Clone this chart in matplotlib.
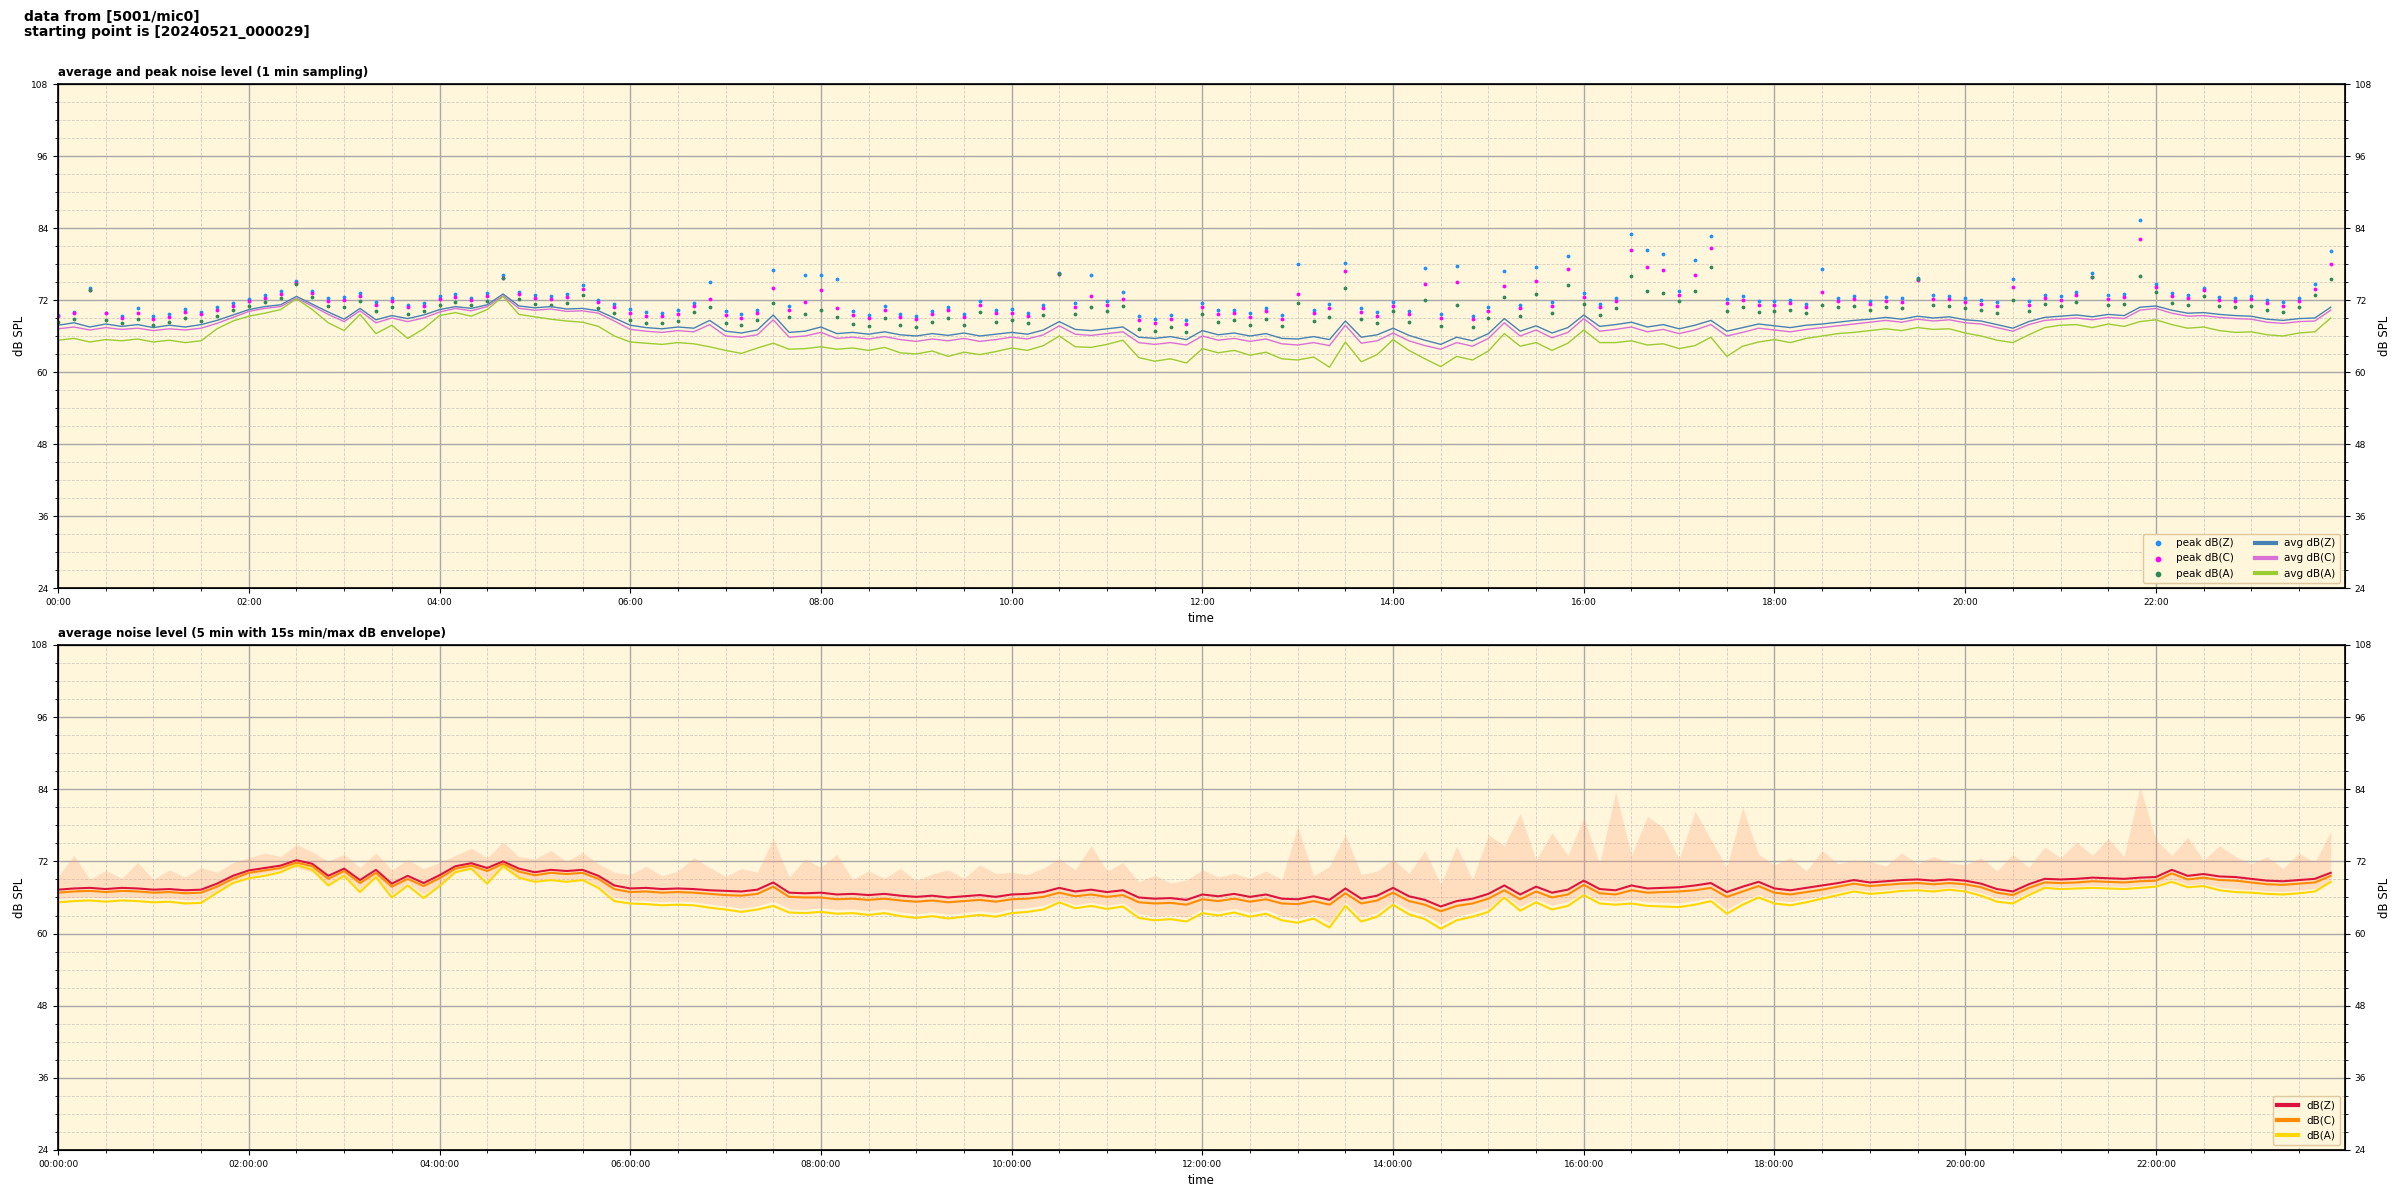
import numpy as np
import pandas as pd
import matplotlib
matplotlib.use("Agg")
import matplotlib.pyplot as plt
import matplotlib.dates as mdates

# ---- data (10 min steps) ----
minutes = np.arange(0, 1440, 10)

avg_z = [67.8, 68.2, 67.5, 68.0, 67.6, 67.9, 67.4, 67.8, 67.5, 67.9, 68.6, 69.5,
         70.4, 70.9, 71.2, 72.6, 71.3, 70.0, 68.8, 70.6, 68.7, 69.4, 68.9, 69.5,
         70.4, 70.9, 70.6, 71.2, 73.0, 71.0, 70.7, 70.9, 70.5, 70.6, 70.2, 69.0,
         67.8, 67.4, 67.2, 67.5, 67.3, 68.6, 66.8, 66.5, 67.0, 69.5, 66.6, 66.8,
         67.5, 66.4, 66.6, 66.3, 66.7, 66.2, 66.0, 66.4, 66.1, 66.5, 66.0, 66.3,
         66.6, 66.3, 67.0, 68.4, 67.1, 66.9, 67.2, 67.5, 65.8, 65.6, 65.9, 65.4,
         66.9, 66.2, 66.5, 66.0, 66.4, 65.6, 65.5, 65.9, 65.4, 68.5, 65.8, 66.2,
         67.3, 66.1, 65.3, 64.6, 65.8, 65.2, 66.4, 68.9, 66.8, 67.7, 66.5, 67.4,
         69.5, 67.6, 67.9, 68.3, 67.5, 67.9, 67.2, 67.8, 68.6, 66.8, 67.4, 68.0,
         67.7, 67.4, 67.8, 68.0, 68.3, 68.6, 68.8, 69.1, 68.8, 69.3, 69.0, 69.2,
         68.7, 68.5, 67.9, 67.3, 68.4, 69.1, 69.3, 69.5, 69.2, 69.6, 69.4, 70.8,
         71.0, 70.3, 69.8, 69.9, 69.6, 69.4, 69.3, 68.8, 68.6, 68.9, 69.0, 70.8]
avg_c = [67.2, 67.5, 67.0, 67.4, 67.1, 67.3, 66.9, 67.2, 67.0, 67.3, 68.1, 69.1,
         70.1, 70.6, 70.9, 72.3, 71.0, 69.6, 68.4, 70.2, 68.2, 69.0, 68.4, 69.0,
         70.0, 70.6, 70.2, 70.9, 72.7, 70.6, 70.3, 70.5, 70.1, 70.2, 69.8, 68.5,
         67.1, 66.8, 66.6, 66.9, 66.7, 67.9, 66.0, 65.8, 66.2, 68.7, 65.8, 66.0,
         66.6, 65.6, 65.8, 65.5, 65.9, 65.4, 65.1, 65.5, 65.2, 65.6, 65.1, 65.4,
         65.8, 65.5, 66.2, 67.7, 66.3, 66.1, 66.4, 66.7, 64.9, 64.6, 64.9, 64.5,
         66.0, 65.3, 65.6, 65.1, 65.5, 64.7, 64.5, 64.9, 64.4, 67.8, 64.8, 65.2,
         66.5, 65.2, 64.4, 63.8, 64.9, 64.3, 65.6, 68.2, 66.0, 67.0, 65.7, 66.6,
         68.9, 66.8, 67.1, 67.5, 66.7, 67.1, 66.4, 67.0, 67.9, 66.0, 66.6, 67.3,
         67.0, 66.7, 67.1, 67.4, 67.7, 68.0, 68.3, 68.6, 68.3, 68.8, 68.5, 68.7,
         68.2, 68.0, 67.4, 66.8, 67.9, 68.6, 68.8, 69.0, 68.7, 69.1, 68.9, 70.3,
         70.6, 69.8, 69.3, 69.4, 69.1, 68.9, 68.8, 68.3, 68.1, 68.4, 68.5, 70.3]
avg_a = [65.3, 65.6, 65.0, 65.4, 65.2, 65.5, 65.0, 65.3, 64.9, 65.2, 67.2, 68.5,
         69.3, 69.8, 70.4, 72.2, 70.4, 68.2, 66.9, 69.6, 66.4, 67.8, 65.6, 67.2,
         69.4, 69.9, 69.3, 70.4, 72.6, 69.6, 69.2, 68.8, 68.5, 68.3, 67.6, 66.0,
         65.0, 64.8, 64.6, 64.9, 64.7, 64.2, 63.6, 63.1, 64.0, 64.8, 63.8, 63.9,
         64.2, 63.8, 64.0, 63.6, 64.1, 63.2, 63.0, 63.5, 62.6, 63.3, 62.9, 63.4,
         64.0, 63.6, 64.4, 66.0, 64.2, 64.1, 64.6, 65.3, 62.4, 61.8, 62.2, 61.5,
         63.9, 63.2, 63.6, 62.8, 63.3, 62.2, 62.0, 62.5, 60.8, 65.0, 61.7, 62.9,
         65.4, 63.6, 62.2, 60.9, 62.6, 62.0, 63.5, 66.4, 64.3, 64.9, 63.6, 64.8,
         67.0, 64.9, 64.9, 65.2, 64.5, 64.7, 63.9, 64.4, 65.8, 62.6, 64.3, 65.0,
         65.4, 64.9, 65.6, 66.0, 66.4, 66.6, 66.9, 67.2, 66.9, 67.4, 67.1, 67.2,
         66.5, 66.0, 65.3, 64.9, 66.2, 67.4, 67.8, 67.9, 67.4, 68.0, 67.6, 68.4,
         68.7, 67.9, 67.3, 67.5, 66.9, 66.6, 66.7, 66.2, 66.0, 66.5, 66.7, 69.0]

peak_z = [69.5, 70.0, 74.0, 69.8, 69.4, 70.6, 69.3, 69.6, 70.5, 70.0, 70.8, 71.5,
          72.1, 72.8, 73.5, 75.2, 73.5, 72.3, 72.5, 73.2, 71.6, 72.4, 71.2, 71.5,
          72.6, 73.0, 72.4, 73.1, 76.1, 73.4, 72.8, 72.6, 73.0, 74.5, 72.0, 71.4,
          70.5, 70.0, 69.8, 70.3, 71.5, 75.0, 70.2, 69.6, 70.4, 77.0, 71.0, 76.2,
          76.2, 75.5, 70.1, 69.5, 71.0, 69.6, 69.4, 70.2, 70.8, 69.6, 71.8, 70.4,
          70.5, 69.9, 71.2, 76.5, 71.5, 76.2, 71.8, 73.4, 69.3, 68.8, 69.5, 68.6,
          71.5, 70.3, 70.4, 69.8, 70.6, 69.5, 78.0, 70.4, 71.3, 78.2, 70.6, 70.0,
          71.6, 70.2, 77.3, 69.6, 77.6, 69.3, 70.8, 76.9, 71.2, 77.5, 71.6, 79.3,
          73.2, 71.3, 72.4, 83.0, 80.4, 79.7, 73.5, 78.6, 82.6, 72.1, 72.6, 71.8,
          71.8, 72.0, 71.3, 77.2, 72.4, 72.6, 71.9, 72.5, 72.3, 75.7, 72.8, 72.6,
          72.3, 72.0, 71.6, 75.5, 71.8, 72.9, 72.6, 73.4, 76.5, 72.8, 73.0, 85.3,
          74.6, 73.2, 72.8, 74.0, 72.5, 72.4, 72.6, 72.0, 71.6, 72.4, 74.6, 80.2]
peak_c = [69.4, 69.9, 73.6, 69.9, 69.0, 69.8, 68.9, 69.2, 70.0, 69.6, 70.3, 71.0,
          71.8, 72.3, 73.0, 74.8, 73.1, 71.9, 72.0, 72.7, 71.1, 71.9, 70.8, 71.0,
          72.1, 72.5, 72.0, 72.6, 75.6, 73.0, 72.3, 72.2, 72.5, 73.9, 71.6, 70.8,
          69.8, 69.4, 69.3, 69.6, 71.0, 72.2, 69.5, 69.0, 69.9, 74.0, 70.4, 71.7,
          73.6, 70.7, 69.5, 69.0, 70.4, 69.1, 68.8, 69.6, 70.3, 69.1, 71.2, 69.8,
          69.8, 69.4, 70.6, 76.3, 70.9, 72.6, 71.2, 72.2, 68.6, 68.2, 68.8, 68.0,
          70.8, 69.7, 69.8, 69.2, 70.1, 68.9, 73.0, 69.8, 70.6, 76.8, 70.0, 69.4,
          71.0, 69.6, 74.6, 69.0, 75.0, 68.8, 70.2, 74.4, 70.6, 75.2, 71.0, 77.1,
          72.5, 70.8, 71.8, 80.3, 77.5, 77.0, 72.8, 76.1, 80.6, 71.5, 72.0, 71.2,
          71.2, 71.5, 70.8, 73.3, 71.9, 72.1, 71.3, 71.9, 71.7, 75.4, 72.2, 72.1,
          71.7, 71.4, 71.0, 74.2, 71.2, 72.4, 72.0, 72.8, 75.8, 72.2, 72.5, 82.2,
          74.2, 72.6, 72.3, 73.6, 72.0, 71.9, 72.1, 71.5, 71.0, 71.9, 73.9, 78.0]
peak_a = [68.4, 68.9, 73.7, 68.6, 68.2, 68.8, 67.8, 68.3, 69.0, 68.5, 69.4, 70.3,
          71.0, 71.6, 72.4, 74.6, 72.5, 71.0, 70.9, 71.8, 70.1, 70.8, 69.6, 70.2,
          71.2, 71.6, 71.1, 71.9, 75.7, 72.1, 71.4, 71.2, 71.5, 72.8, 70.7, 69.8,
          68.6, 68.2, 68.1, 68.5, 70.0, 70.8, 68.2, 67.8, 68.6, 71.5, 69.2, 69.6,
          70.4, 69.2, 68.0, 67.6, 69.0, 67.8, 67.5, 68.3, 69.0, 67.8, 70.0, 68.4,
          68.6, 68.1, 69.5, 76.4, 69.6, 70.8, 70.1, 71.0, 67.2, 66.8, 67.5, 66.7,
          69.6, 68.4, 68.6, 67.8, 68.9, 67.6, 71.5, 68.5, 69.2, 74.0, 68.8, 68.1,
          70.2, 68.4, 72.0, 67.6, 71.2, 67.5, 69.0, 72.5, 69.4, 73.0, 69.8, 74.5,
          71.4, 69.5, 70.6, 76.0, 73.5, 73.2, 71.8, 73.5, 77.5, 70.2, 70.8, 70.0,
          70.1, 70.4, 69.8, 71.2, 70.8, 71.0, 70.3, 70.8, 70.6, 75.5, 71.1, 71.0,
          70.6, 70.3, 69.9, 72.0, 70.1, 71.3, 71.0, 71.7, 75.9, 71.1, 71.4, 76.0,
          73.4, 71.5, 71.2, 72.6, 71.0, 70.8, 71.0, 70.4, 70.0, 70.8, 72.8, 75.5]

# 5 min averages with 15 s min/max envelope
db_z = [67.3, 67.5, 67.6, 67.4, 67.6, 67.5, 67.3, 67.4, 67.2, 67.3, 68.3, 69.6,
        70.5, 70.9, 71.3, 72.2, 71.6, 69.6, 70.8, 68.9, 70.6, 68.3, 69.6, 68.4,
        69.7, 71.2, 71.7, 70.9, 72.0, 70.8, 70.2, 70.6, 70.4, 70.6, 69.6, 68.0,
        67.5, 67.6, 67.4, 67.5, 67.4, 67.2, 67.1, 67.0, 67.3, 68.5, 66.8, 66.7,
        66.8, 66.5, 66.6, 66.4, 66.6, 66.3, 66.1, 66.3, 66.0, 66.2, 66.4, 66.1,
        66.5, 66.6, 66.9, 67.6, 67.0, 67.3, 66.9, 67.2, 66.0, 65.8, 65.9, 65.6,
        66.5, 66.2, 66.6, 66.1, 66.5, 65.8, 65.7, 66.2, 65.6, 67.5, 65.8, 66.3,
        67.6, 66.2, 65.6, 64.5, 65.4, 65.8, 66.6, 68.0, 66.5, 67.8, 66.8, 67.3,
        68.8, 67.4, 67.2, 68.0, 67.5, 67.6, 67.7, 68.0, 68.4, 66.9, 67.8, 68.6,
        67.5, 67.2, 67.6, 68.0, 68.4, 68.9, 68.5, 68.7, 68.9, 69.0, 68.8, 69.0,
        68.8, 68.3, 67.4, 67.0, 68.2, 69.1, 69.0, 69.1, 69.3, 69.2, 69.1, 69.3,
        69.4, 70.6, 69.6, 69.9, 69.5, 69.4, 69.1, 68.8, 68.7, 68.9, 69.1, 70.1]
db_c = [66.8, 67.0, 67.1, 66.9, 67.1, 67.0, 66.8, 66.9, 66.7, 66.8, 67.8, 69.1,
        70.1, 70.5, 70.9, 71.8, 71.2, 69.1, 70.4, 68.4, 70.1, 67.8, 69.1, 67.9,
        69.2, 70.8, 71.3, 70.4, 71.6, 70.3, 69.7, 70.1, 69.9, 70.1, 69.1, 67.4,
        66.9, 67.0, 66.8, 66.9, 66.8, 66.6, 66.4, 66.3, 66.6, 67.8, 66.1, 66.0,
        66.0, 65.7, 65.8, 65.6, 65.8, 65.5, 65.3, 65.5, 65.2, 65.4, 65.6, 65.3,
        65.7, 65.8, 66.1, 66.8, 66.2, 66.5, 66.1, 66.4, 65.2, 65.0, 65.1, 64.8,
        65.7, 65.4, 65.8, 65.3, 65.7, 65.0, 64.9, 65.4, 64.8, 66.7, 65.0, 65.5,
        66.8, 65.4, 64.8, 63.7, 64.6, 65.0, 65.8, 67.2, 65.7, 67.0, 66.0, 66.5,
        68.1, 66.7, 66.5, 67.2, 66.8, 66.9, 67.0, 67.2, 67.6, 66.1, 67.0, 67.9,
        66.8, 66.5, 66.9, 67.3, 67.8, 68.3, 67.9, 68.1, 68.3, 68.4, 68.2, 68.4,
        68.2, 67.7, 66.8, 66.4, 67.6, 68.5, 68.4, 68.5, 68.7, 68.6, 68.5, 68.7,
        68.8, 70.0, 69.0, 69.3, 68.9, 68.8, 68.5, 68.2, 68.1, 68.3, 68.5, 69.6]
db_a = [65.2, 65.4, 65.5, 65.3, 65.5, 65.4, 65.2, 65.3, 65.0, 65.1, 66.8, 68.4,
        69.2, 69.6, 70.2, 71.4, 70.6, 68.0, 69.6, 66.9, 69.4, 66.0, 68.0, 65.9,
        67.9, 70.2, 70.8, 68.3, 71.2, 69.3, 68.6, 68.9, 68.6, 68.9, 67.6, 65.4,
        65.0, 64.9, 64.7, 64.8, 64.7, 64.3, 64.0, 63.6, 64.0, 64.6, 63.5, 63.4,
        63.6, 63.3, 63.4, 63.1, 63.4, 62.9, 62.6, 62.9, 62.5, 62.8, 63.1, 62.8,
        63.4, 63.6, 64.0, 65.2, 64.2, 64.6, 64.1, 64.5, 62.6, 62.2, 62.4, 62.0,
        63.4, 63.0, 63.5, 62.8, 63.3, 62.2, 61.8, 62.5, 61.0, 64.6, 62.0, 62.8,
        64.8, 63.2, 62.4, 60.8, 62.2, 62.8, 63.6, 66.0, 63.8, 65.2, 64.0, 64.6,
        66.4, 65.0, 64.8, 65.0, 64.6, 64.5, 64.4, 64.8, 65.4, 63.3, 64.8, 66.0,
        65.0, 64.7, 65.2, 65.8, 66.4, 67.0, 66.6, 66.8, 67.1, 67.2, 67.0, 67.3,
        67.0, 66.3, 65.3, 65.0, 66.4, 67.6, 67.4, 67.5, 67.6, 67.5, 67.4, 67.6,
        67.8, 68.6, 67.7, 67.9, 67.2, 66.9, 66.8, 66.6, 66.5, 66.7, 67.0, 68.6]
env_hi = [69.5, 73.0, 69.0, 70.5, 69.2, 71.8, 69.0, 70.6, 69.4, 71.0, 70.2, 71.8,
          72.6, 73.4, 72.8, 74.8, 73.6, 72.0, 73.2, 71.0, 73.4, 70.6, 72.3, 70.8,
          71.8, 73.0, 74.2, 72.6, 75.2, 72.8, 72.4, 73.8, 72.0, 73.5, 71.6, 70.2,
          69.8, 71.2, 69.6, 70.4, 72.6, 71.0, 69.5, 70.8, 70.2, 75.8, 69.4, 72.4,
          71.0, 73.2, 69.0, 70.4, 69.2, 70.8, 68.8, 69.9, 70.6, 69.2, 71.4, 70.0,
          70.2, 69.8, 70.9, 72.5, 70.6, 74.6, 70.4, 71.8, 68.6, 69.7, 68.4, 68.9,
          70.6, 69.4, 70.0, 69.2, 70.4, 69.0, 77.8, 69.6, 71.2, 76.5, 69.8, 70.4,
          72.4, 70.0, 73.8, 68.2, 74.5, 69.0, 76.4, 74.6, 80.0, 72.2, 76.8, 73.0,
          79.3, 71.6, 83.6, 73.0, 79.5, 77.6, 72.4, 80.4, 75.6, 71.0, 81.0, 73.2,
          71.4, 72.6, 70.4, 73.8, 71.6, 72.2, 72.0, 71.2, 73.4, 71.6, 72.8, 71.8,
          71.4, 72.6, 70.4, 73.2, 71.0, 74.4, 72.6, 75.2, 73.0, 75.8, 72.8, 84.4,
          75.6, 73.0, 76.0, 72.2, 74.6, 72.8, 71.6, 72.8, 70.8, 73.4, 71.8, 77.0]
env_lo = [65.8, 66.0, 66.1, 65.9, 66.1, 66.0, 65.8, 65.9, 65.6, 65.7, 67.2, 68.8,
          69.6, 70.0, 70.5, 71.0, 70.2, 68.4, 69.8, 67.4, 69.6, 66.6, 68.4, 66.5,
          68.3, 70.3, 70.8, 69.0, 71.0, 69.5, 68.9, 69.2, 68.9, 69.2, 68.0, 66.0,
          65.6, 65.5, 65.3, 65.4, 65.3, 64.9, 64.6, 64.2, 64.6, 65.4, 64.1, 64.0,
          64.3, 64.0, 64.1, 63.8, 64.1, 63.6, 63.3, 63.6, 63.2, 63.5, 63.8, 63.5,
          64.1, 64.3, 64.7, 65.6, 64.8, 65.2, 64.7, 65.1, 63.3, 62.9, 63.1, 62.7,
          64.1, 63.7, 64.2, 63.5, 64.0, 62.9, 62.5, 63.2, 61.8, 65.2, 62.7, 63.5,
          65.4, 63.9, 63.1, 61.6, 62.9, 63.5, 64.3, 66.4, 64.5, 65.8, 64.7, 65.3,
          66.9, 65.6, 65.4, 65.7, 65.3, 65.2, 65.1, 65.5, 66.0, 64.0, 65.5, 66.5,
          65.6, 65.3, 65.8, 66.3, 66.9, 67.4, 67.1, 67.3, 67.5, 67.6, 67.4, 67.7,
          67.4, 66.8, 65.9, 65.6, 66.9, 67.9, 67.8, 67.9, 68.0, 67.9, 67.8, 68.0,
          68.2, 69.0, 68.1, 68.3, 67.7, 67.4, 67.3, 67.1, 67.0, 67.2, 67.5, 68.9]

start = pd.Timestamp("2024-05-21 00:00:00")
t = start + pd.to_timedelta(minutes, unit="m")
t_end = start + pd.Timedelta(minutes=1439)

BG = "#fff6db"

fig = plt.figure(figsize=(24, 12), dpi=100)
fig.text(0.01, 0.992, "data from [5001/mic0]\nstarting point is [20240521_000029]",
         ha="left", va="top", fontsize=10, fontweight="bold", linespacing=1.1)

ax1 = fig.add_axes([0.0242, 0.51, 0.9529, 0.42])
ax2 = fig.add_axes([0.0242, 0.0417, 0.9529, 0.4208])


def style_axis(ax, fmt):
    ax.set_facecolor(BG)
    ax.set_ylim(24, 108)
    ax.set_xlim(start, t_end)
    ax.set_yticks(np.arange(24, 109, 12))
    ax.set_yticks(np.arange(24, 109, 3), minor=True)
    ax.xaxis.set_major_locator(mdates.HourLocator(interval=2))
    ax.xaxis.set_minor_locator(mdates.MinuteLocator(byminute=[0, 30]))
    ax.xaxis.set_major_formatter(mdates.DateFormatter(fmt))
    ax.grid(which="major", color="#a8a8a8", linewidth=1.0, linestyle="-")
    ax.grid(which="minor", color="#d2cdbf", linewidth=0.6, linestyle="--")
    ax.set_axisbelow(True)
    ax.tick_params(labelsize=6.5)
    ax.set_ylabel("dB SPL", fontsize=8.5)
    ax.set_xlabel("time", fontsize=8.5)
    for s in ax.spines.values():
        s.set_linewidth(1.2)
    twin = ax.twinx()
    twin.set_ylim(24, 108)
    twin.set_yticks(np.arange(24, 109, 12))
    twin.set_yticks(np.arange(24, 109, 3), minor=True)
    twin.tick_params(labelsize=6.5)
    twin.set_ylabel("dB SPL", fontsize=8.5)


# ---- top: 1 min average and peak ----
style_axis(ax1, "%H:%M")
ax1.set_title("average and peak noise level (1 min sampling)", loc="left",
              fontsize=8.5, fontweight="bold")
ax1.scatter(t, peak_z, s=3, color="dodgerblue", label="peak dB(Z)", zorder=3)
ax1.scatter(t, peak_c, s=3, color="magenta", label="peak dB(C)", zorder=3)
ax1.scatter(t, peak_a, s=3, color="seagreen", label="peak dB(A)", zorder=3)
ax1.plot(t, avg_z, color="steelblue", lw=1.0, label="avg dB(Z)", zorder=4)
ax1.plot(t, avg_c, color="orchid", lw=1.0, label="avg dB(C)", zorder=4)
ax1.plot(t, avg_a, color="yellowgreen", lw=1.0, label="avg dB(A)", zorder=4)
leg1 = ax1.legend(loc="lower right", ncol=2, fontsize=7.5, markerscale=1.8,
                  facecolor=BG, edgecolor="#e0c8a0", framealpha=1)
for ln in leg1.get_lines():
    ln.set_linewidth(3)

# ---- bottom: 5 min average with envelope ----
style_axis(ax2, "%H:%M:%S")
ax2.set_title("average noise level (5 min with 15s min/max dB envelope)", loc="left",
              fontsize=8.5, fontweight="bold")
ax2.fill_between(t, env_lo, env_hi, color="lightsalmon", alpha=0.28, lw=0, zorder=2)
ax2.plot(t, db_z, color="crimson", lw=1.5, label="dB(Z)", zorder=4)
ax2.plot(t, db_c, color="darkorange", lw=1.5, label="dB(C)", zorder=4)
ax2.plot(t, db_a, color="gold", lw=1.5, label="dB(A)", zorder=4)
leg2 = ax2.legend(loc="lower right", fontsize=7.5, facecolor=BG,
                  edgecolor="#e0c8a0", framealpha=1)
for ln in leg2.get_lines():
    ln.set_linewidth(3)

fig.savefig("out.png", dpi=100)
